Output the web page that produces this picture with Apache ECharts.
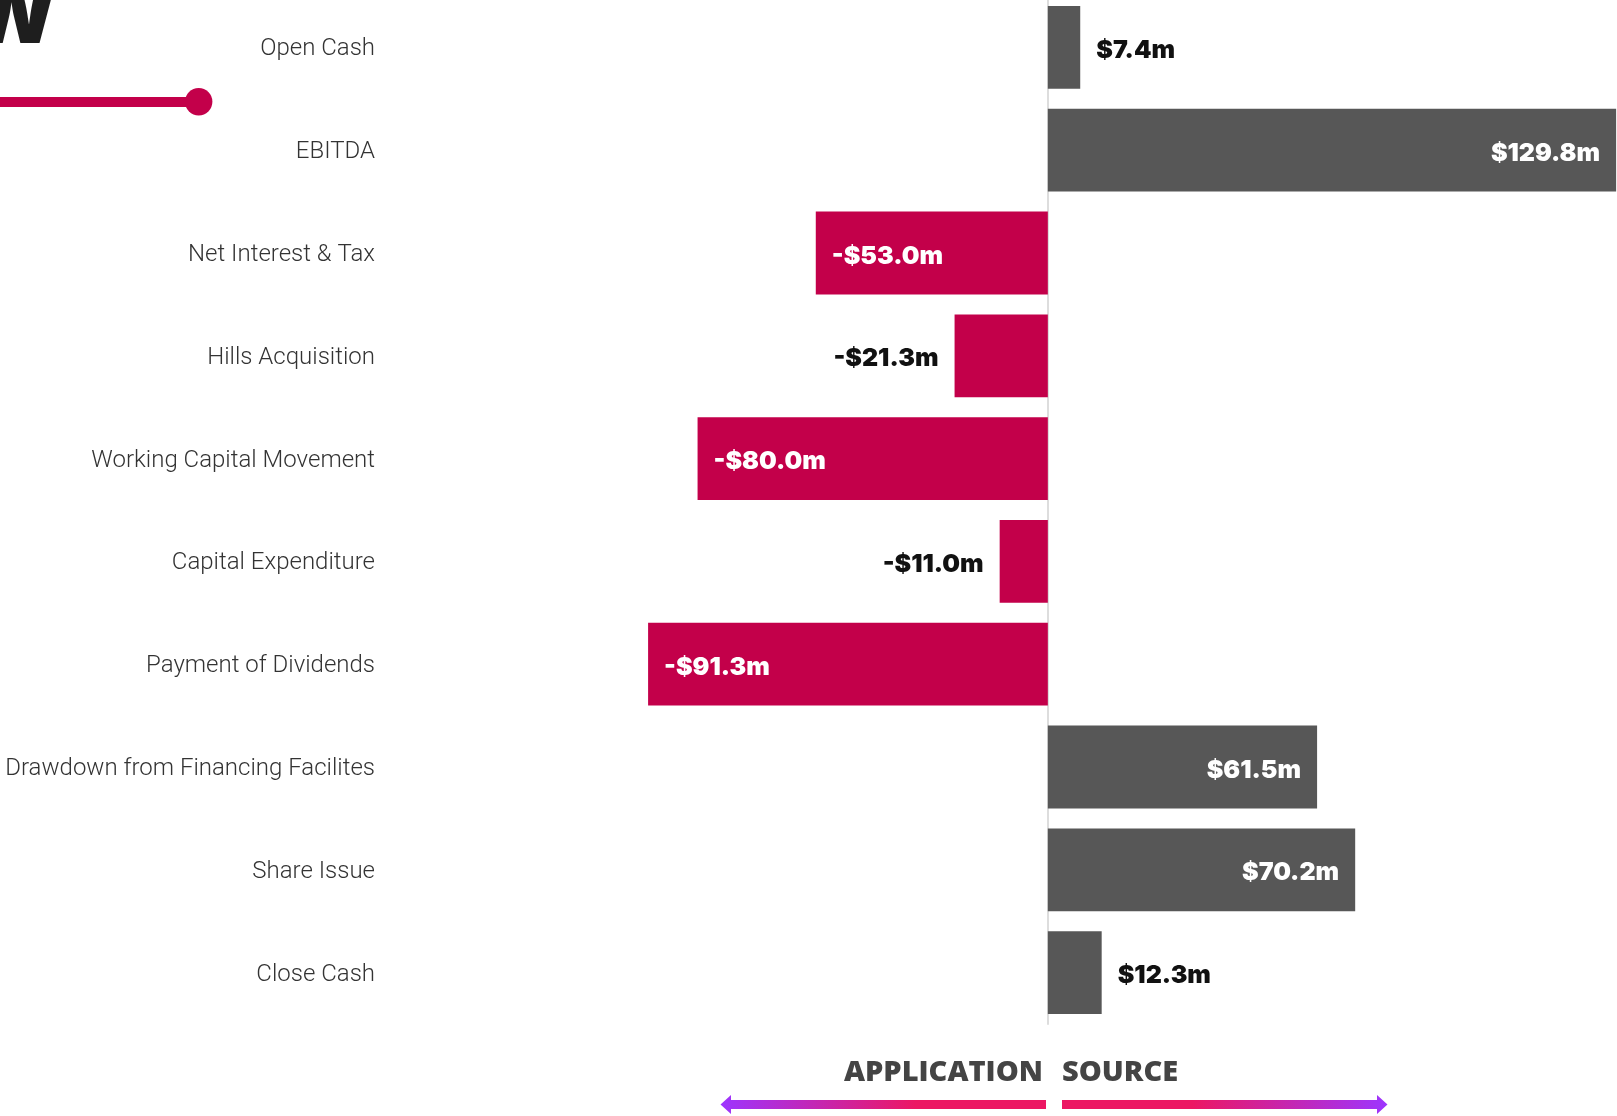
<!DOCTYPE html>
<html>
<head>
<meta charset="utf-8">
<script src="https://cdn.jsdelivr.net/npm/echarts@6/dist/echarts.min.js"></script>
<style>
  html, body { margin: 0; padding: 0; background: #fff; }
  #chart { width: 1617px; height: 1116px; }
</style>
</head>
<body>
<div id="chart"></div>
<script>
const categories = [
  'Open Cash',
  'EBITDA',
  'Net Interest & Tax',
  'Hills Acquisition',
  'Working Capital Movement',
  'Capital Expenditure',
  'Payment of Dividends',
  'Drawdown from Financing Facilites',
  'Share Issue',
  'Close Cash'
]
const values = [7.4, 129.8, -53.0, -21.3, -80.0, -11.0, -91.3, 61.5, 70.2, 12.3]

const RED = '#c3004a'
const GREY = '#575757'
const PURPLE = '#9d35ff'
const PINK = '#ec1763'

const fmt = (v) => (v < 0 ? '-$' : '$') + Math.abs(v).toFixed(1) + 'm'

const chart = echarts.init(document.getElementById('chart'))

const barData = values.map((v) => {
  const inside = Math.abs(v) > 40
  let pos
  if (v < 0) pos = inside ? 'insideLeft' : 'left'
  else pos = inside ? 'insideRight' : 'right'
  return {
    value: v,
    itemStyle: { color: v < 0 ? RED : GREY },
    label: { position: pos, color: inside ? '#ffffff' : '#111111' }
  }
})

const option = {
  backgroundColor: '#ffffff',
  animation: false,
  grid: {
    left: 610,
    right: 0,
    top: -4,
    bottom: 92,
    containLabel: false,
    outerBoundsMode: 'none'
  },
  xAxis: {
    type: 'value',
    min: -100,
    max: 130,
    show: false,
    splitLine: { show: false }
  },
  yAxis: {
    type: 'category',
    data: categories,
    inverse: true,
    axisTick: { show: false },
    axisLine: { show: true, onZero: true, lineStyle: { color: '#dddddd', width: 2 } },
    axisLabel: {
      margin: 235,
      fontFamily: 'Roboto',
      fontWeight: 300,
      fontSize: 24,
      color: '#333333',
      verticalAlign: 'top',
      lineHeight: 4
    }
  },
  series: [
    {
      type: 'bar',
      data: barData,
      barCategoryGap: '19.5%',
      label: {
        show: true,
        distance: 16,
        fontFamily: 'Inter',
        fontWeight: 900,
        fontSize: 25,
        verticalAlign: 'top',
        lineHeight: 6,
        formatter: (p) => fmt(p.value)
      }
    }
  ],
  graphic: [
    // cropped title tail + decorative rule at top left
    {
      type: 'text',
      x: 58,
      y: 17,
      style: {
        text: 'W',
        fill: '#1e1e1e',
        font: '900 86px Inter',
        textAlign: 'right',
        textVerticalAlign: 'middle'
      }
    },
    {
      type: 'rect',
      shape: { x: 0, y: 97, width: 199, height: 10 },
      style: { fill: RED }
    },
    {
      type: 'circle',
      shape: { cx: 198.7, cy: 101.7, r: 13.7 },
      style: { fill: RED }
    },
    // bottom direction labels
    {
      type: 'text',
      x: 1043,
      y: 1073,
      style: {
        text: 'APPLICATION',
        fill: '#444444',
        font: '800 29px "Open Sans"',
        textAlign: 'right',
        textVerticalAlign: 'middle'
      }
    },
    {
      type: 'text',
      x: 1062,
      y: 1073,
      style: {
        text: 'SOURCE',
        fill: '#444444',
        font: '800 29px "Open Sans"',
        textAlign: 'left',
        textVerticalAlign: 'middle'
      }
    },
    {
      type: 'polygon',
      shape: {
        points: [[1046, 1100], [731, 1100], [731, 1095], [720.5, 1104.5], [731, 1114], [731, 1109], [1046, 1109]]
      },
      style: {
        fill: new echarts.graphic.LinearGradient(0, 0, 1, 0, [
          { offset: 0, color: PURPLE },
          { offset: 0.6, color: PINK },
          { offset: 1, color: PINK }
        ])
      }
    },
    {
      type: 'polygon',
      shape: {
        points: [[1062, 1100], [1377, 1100], [1377, 1095], [1387.5, 1104.5], [1377, 1114], [1377, 1109], [1062, 1109]]
      },
      style: {
        fill: new echarts.graphic.LinearGradient(0, 0, 1, 0, [
          { offset: 0, color: PINK },
          { offset: 0.4, color: PINK },
          { offset: 1, color: PURPLE }
        ])
      }
    }
  ]
}

chart.setOption(option)
</script>
</body>
</html>
